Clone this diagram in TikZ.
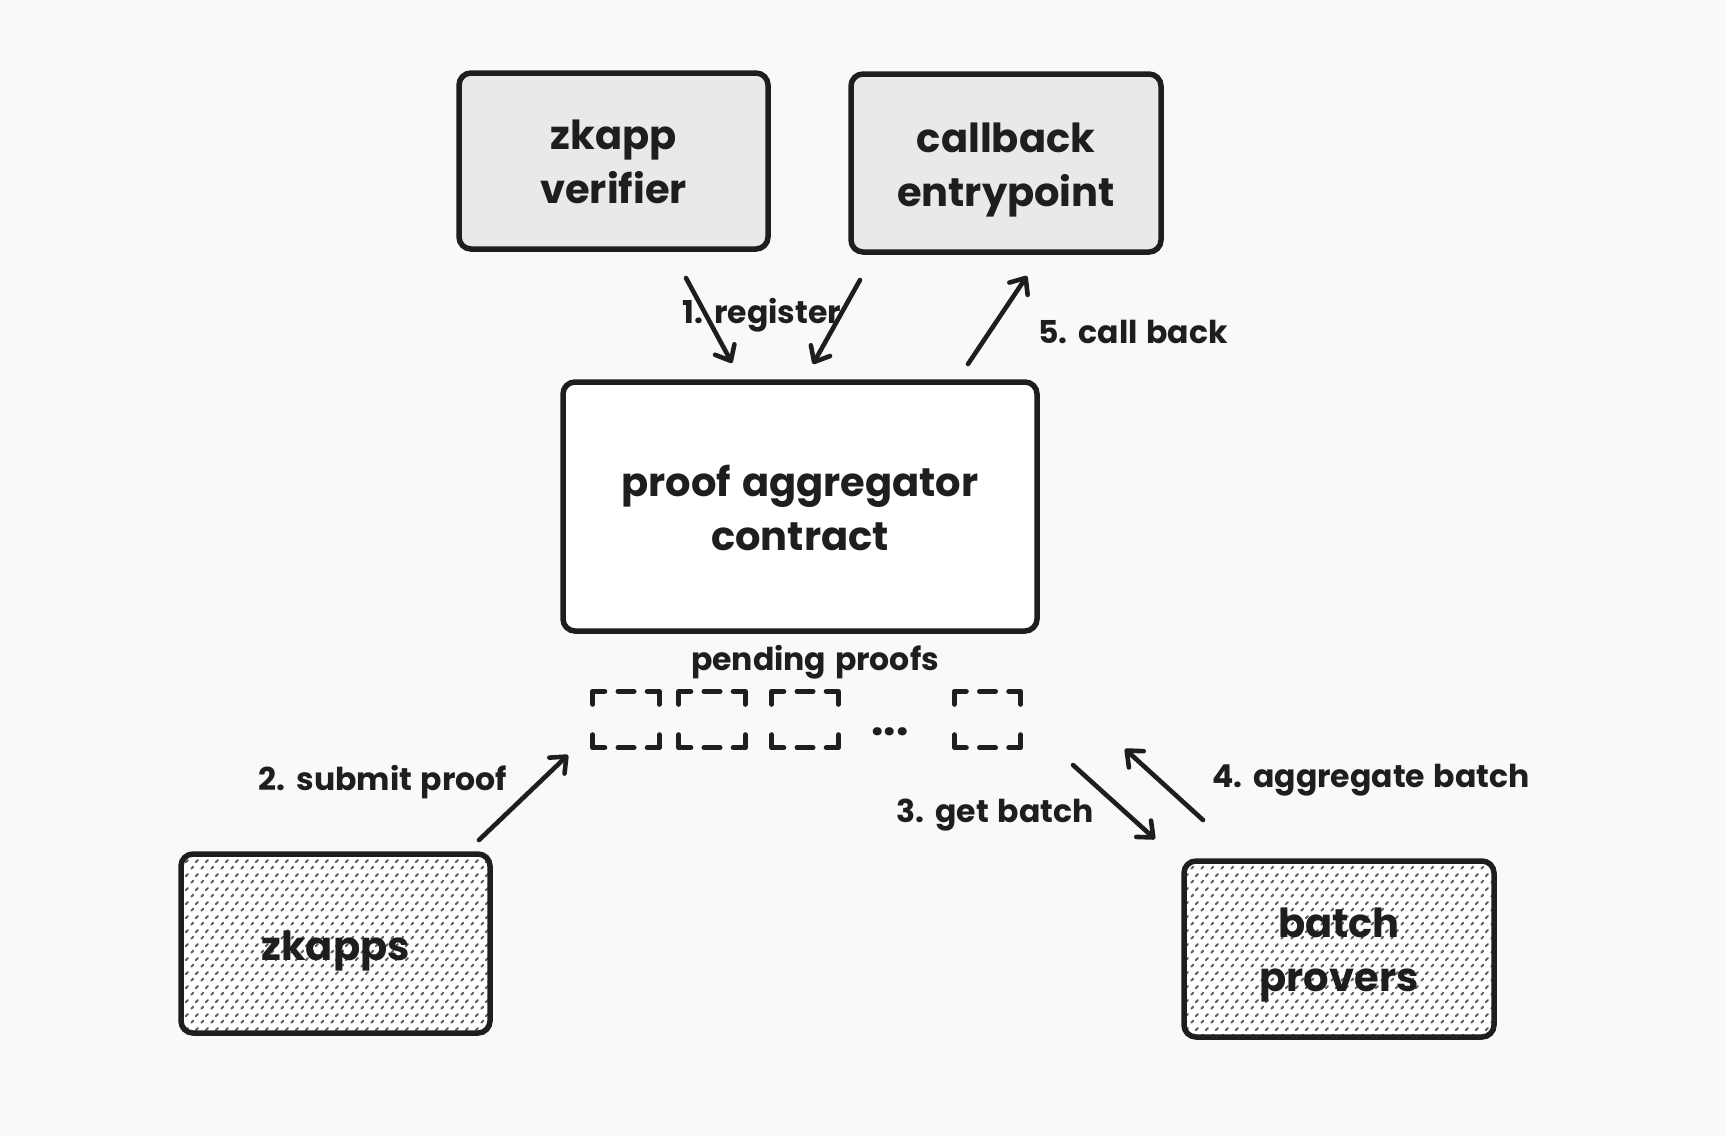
\documentclass[tikz,border=0pt]{standalone}
\usepackage{fontspec}
\setmainfont{Poppins}[WordSpace=1.3]
\usetikzlibrary{arrows.meta,patterns,calc}
\definecolor{ink}{HTML}{1E1E1E}
\definecolor{bgc}{HTML}{F8F9FB}
\definecolor{topfill}{HTML}{E9E9EB}
\definecolor{hatchc}{HTML}{5E5E5E}
\pgfdeclarepatternformonly{dashhatch}{\pgfpoint{0pt}{0pt}}{\pgfpoint{10pt}{14pt}}{\pgfpoint{10pt}{14pt}}{%
  \pgfsetlinewidth{2.2pt}\pgfsetroundcap
  \pgfpathmoveto{\pgfpoint{1.4pt}{2.4pt}}\pgfpathlineto{\pgfpoint{3.6pt}{4.6pt}}
  \pgfpathmoveto{\pgfpoint{6.4pt}{9.4pt}}\pgfpathlineto{\pgfpoint{8.6pt}{11.6pt}}\pgfusepath{stroke}}
\tikzset{
  box/.style={draw=ink, line width=5.5pt, rounded corners=12pt, inner sep=0pt},
  boxtxt/.style={align=center, inner sep=0pt, font=\fontsize{40}{54}\selectfont\bfseries, text=ink},
  topbox/.style={box, fill=topfill},
  mainbox/.style={box, fill=white},
  hatchbox/.style={box, preaction={fill=white}, pattern=dashhatch, pattern color=hatchc},
  lbl/.style={font=\fontsize{31.5}{38}\selectfont\bfseries, text=ink, inner sep=0pt},
  conn/.style={draw=ink, line width=4.6pt, line cap=round, -{Straight Barb[length=13pt,width=22pt,round]}},
  pend/.style={draw=ink, line width=5pt, line cap=round, line join=round},
  slot/.style={minimum width=66pt, minimum height=56pt, inner sep=0pt}
}
\newcommand\slotmarks[1]{%
  \draw[pend] (#1.north west) ++(0,13) -- ++(0,-13) -- ++(12,0);
  \draw[pend] (#1.north east) ++(0,13) -- ++(0,-13) -- ++(-12,0);
  \draw[pend] (#1.south west) ++(0,-13) -- ++(0,13) -- ++(12,0);
  \draw[pend] (#1.south east) ++(0,-13) -- ++(0,13) -- ++(-12,0);
  \draw[pend] (#1.north) ++(-8,0) -- ++(16,0);
  \draw[pend] (#1.south) ++(-8,0) -- ++(16,0);}
\begin{document}
\begin{tikzpicture}[x=1pt,y=-1pt]
\path[fill=bgc] (0,0) rectangle (1726,1136);

\node[topbox, minimum width=309pt, minimum height=176pt] (ver) at (613.5,161) {};
\node[topbox, minimum width=310pt, minimum height=178pt] (cb) at (1006,163) {};
\node[mainbox, minimum width=474pt, minimum height=249pt] (agg) at (800,506.5) {};
\node[hatchbox, minimum width=309pt, minimum height=179pt] (zk) at (335.5,943.5) {};
\node[hatchbox, minimum width=310pt, minimum height=176pt] (bp) at (1339,949) {};

\node[boxtxt] (vert) at ($(ver)+(0,1)$) {zkapp\\verifier};
\node[boxtxt] (cbt) at ($(cb)+(0,7)$) {callback\\entrypoint};
\node[boxtxt] (aggt) at ($(agg)+(0,1)$) {proof aggregator\\contract};
\node[boxtxt] (zkt) at ($(zk)+(0,8)$) {zkapps};
\node[boxtxt] (bpt) at ($(bp)+(0,6)$) {batch\\provers};

\node[lbl] (pendl) at (815,662) {pending proofs};
\node[slot] (s1) at (626,719.5) {};
\node[slot] (s2) at (712,719.5) {};
\node[slot] (s3) at (805,719.5) {};
\node[slot] (s4) at (987.5,719.5) {};
\slotmarks{s1}\slotmarks{s2}\slotmarks{s3}\slotmarks{s4}
\node[font=\fontsize{44}{44}\selectfont\bfseries, text=ink, inner sep=0pt, anchor=base] (dots) at (890,735) {...};

\coordinate (a1s) at (686,278); \coordinate (a1e) at (732,363);
\coordinate (b1s) at (860,280); \coordinate (b1e) at (813,364);
\coordinate (c5s) at (968,364); \coordinate (c5e) at (1027,276);
\coordinate (d2s) at (479,840); \coordinate (d2e) at (568,755);
\coordinate (e3s) at (1073,765); \coordinate (e3e) at (1155,839);
\coordinate (f4s) at (1203,820); \coordinate (f4e) at (1125,749);

\draw[conn] (a1s) -- (a1e);
\draw[conn] (b1s) -- (b1e);
\draw[conn] (c5s) -- (c5e);
\draw[conn] (d2s) -- (d2e);
\draw[conn] (e3s) -- (e3e);
\draw[conn] (f4s) -- (f4e);

\node[lbl] (l1) at (762,315) {1. register};
\node[lbl] (l5) at (1133,332) {5. call back};
\node[lbl] (l2) at (383,782) {2. submit proof};
\node[lbl] (l3) at (995,815) {3. get batch};
\node[lbl] (l4) at (1371,780) {4. aggregate batch};
\end{tikzpicture}
\end{document}
